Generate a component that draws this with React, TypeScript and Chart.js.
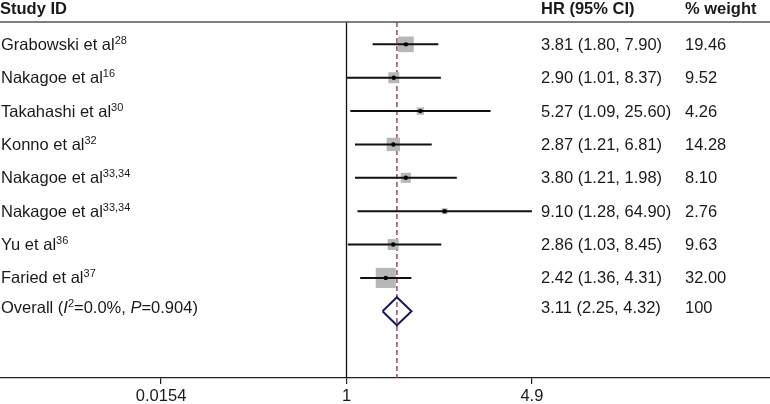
import React, { useEffect, useRef } from "react";
import { Chart, registerables } from "chart.js";

Chart.register(...registerables);

// ---- data ----
const studyNames = [
  "Grabowski et al",
  "Nakagoe et al",
  "Takahashi et al",
  "Konno et al",
  "Nakagoe et al",
  "Nakagoe et al",
  "Yu et al",
  "Faried et al",
];
const studyRefs = ["28", "16", "30", "32", "33,34", "33,34", "36", "37"];
const hrValues = [3.81, 2.9, 5.27, 2.87, 3.8, 9.1, 2.86, 2.42];
const ciLower = [1.8, 1.01, 1.09, 1.21, 1.21, 1.28, 1.03, 1.36];
const ciUpper = [7.9, 8.37, 25.6, 6.81, 11.98, 64.9, 8.45, 4.31];
const hrLabels = [
  "3.81 (1.80, 7.90)",
  "2.90 (1.01, 8.37)",
  "5.27 (1.09, 25.60)",
  "2.87 (1.21, 6.81)",
  "3.80 (1.21, 1.98)",
  "9.10 (1.28, 64.90)",
  "2.86 (1.03, 8.45)",
  "2.42 (1.36, 4.31)",
];
const weights = [19.46, 9.52, 4.26, 14.28, 8.1, 2.76, 9.63, 32.0];
const weightLabels = ["19.46", "9.52", "4.26", "14.28", "8.10", "2.76", "9.63", "32.00"];

const overallHR = 3.11;
const overallLower = 2.25;
const overallUpper = 4.32;
const overallHRLabel = "3.11 (2.25, 4.32)";
const overallWeightLabel = "100";

const xTickValues = [0.0154, 1, 64.9];
const xTickLabels = ["0.0154", "1", "4.9"];

const headers = ["Study ID", "HR (95% CI)", "% weight"];

// ---- style ----
const FONT = "'Liberation Sans', Arial, sans-serif";
const TXT = "#1a1a1a";
const X_MIN = 0.00041;
const X_MAX = 13800;
const Y_MIN = -0.67;
const Y_MAX = 10;
const OVERALL_ROW = studyNames.length;

type Run = { t: string; s?: "n" | "i" | "sup" };

function drawRuns(ctx: CanvasRenderingContext2D, x: number, y: number, runs: Run[]) {
  let cx = x;
  for (const r of runs) {
    if (r.s === "sup") {
      ctx.font = `11px ${FONT}`;
      ctx.fillText(r.t, cx, y - 6);
    } else if (r.s === "i") {
      ctx.font = `italic 16.5px ${FONT}`;
      ctx.fillText(r.t, cx, y);
    } else {
      ctx.font = `16.5px ${FONT}`;
      ctx.fillText(r.t, cx, y);
    }
    cx += ctx.measureText(r.t).width;
  }
}

const textPlugin = {
  id: "forestText",
  afterDraw(chart: any) {
    const ctx: CanvasRenderingContext2D = chart.ctx;
    const ys = chart.scales.y;
    const area = chart.chartArea;
    ctx.save();
    // header rule
    ctx.strokeStyle = "#555";
    ctx.lineWidth = 1.5;
    ctx.beginPath();
    ctx.moveTo(0, area.top);
    ctx.lineTo(chart.width, area.top);
    ctx.stroke();

    ctx.fillStyle = TXT;
    ctx.textAlign = "left";
    ctx.textBaseline = "alphabetic";
    ctx.font = `bold 16.5px ${FONT}`;
    ctx.fillText(headers[0], 0, 13.5);
    ctx.fillText(headers[1], 541, 13.5);
    ctx.fillText(headers[2], 685, 13.5);

    for (let i = 0; i < studyNames.length; i++) {
      const y = ys.getPixelForValue(i) + 5.5;
      drawRuns(ctx, 1, y, [{ t: studyNames[i] }, { t: studyRefs[i], s: "sup" }]);
      ctx.font = `16.5px ${FONT}`;
      ctx.fillText(hrLabels[i], 541, y);
      ctx.fillText(weightLabels[i], 685, y);
    }
    const oy = ys.getPixelForValue(OVERALL_ROW) + 2;
    drawRuns(ctx, 1, oy, [
      { t: "Overall (" },
      { t: "I", s: "i" },
      { t: "2", s: "sup" },
      { t: "=0.0%, " },
      { t: "P", s: "i" },
      { t: "=0.904)" },
    ]);
    ctx.font = `16.5px ${FONT}`;
    ctx.fillText(overallHRLabel, 541, oy);
    ctx.fillText(overallWeightLabel, 685, oy);
    ctx.restore();
  },
};

export default function App() {
  const ref = useRef<HTMLCanvasElement | null>(null);
  useEffect(() => {
    if (!ref.current) return;
    const datasets: any[] = [];
    // centre dots (topmost)
    datasets.push({
      data: hrValues.map((v, i) => ({ x: v, y: i })),
      pointRadius: 2.2,
      pointBackgroundColor: "#000",
      pointBorderWidth: 0,
      showLine: false,
    });
    // CI lines
    hrValues.forEach((_, i) => {
      datasets.push({
        data: [
          { x: ciLower[i], y: i },
          { x: ciUpper[i], y: i },
        ],
        showLine: true,
        borderColor: "#111",
        borderWidth: 2,
        pointRadius: 0,
      });
    });
    // weight squares
    datasets.push({
      data: hrValues.map((v, i) => ({ x: v, y: i })),
      pointStyle: "rect",
      pointRadius: weights.map((w) => (3.55 * Math.sqrt(w)) / Math.SQRT2),
      pointBackgroundColor: "#b7b7b7",
      pointBorderWidth: 0,
      showLine: false,
    });
    // overall diamond
    datasets.push({
      data: [
        { x: overallLower, y: OVERALL_ROW },
        { x: overallHR, y: OVERALL_ROW - 0.42 },
        { x: overallUpper, y: OVERALL_ROW },
        { x: overallHR, y: OVERALL_ROW + 0.42 },
        { x: overallLower, y: OVERALL_ROW },
      ],
      showLine: true,
      borderColor: "#1c1c5c",
      borderWidth: 2,
      pointRadius: 0,
      fill: false,
    });
    // overall dashed line
    datasets.push({
      data: [
        { x: overallHR, y: Y_MIN },
        { x: overallHR, y: Y_MAX },
      ],
      showLine: true,
      borderColor: "#a3485a",
      borderWidth: 1.5,
      borderDash: [5, 3],
      pointRadius: 0,
    });
    // null line at 1
    datasets.push({
      data: [
        { x: 1, y: Y_MIN },
        { x: 1, y: Y_MAX },
      ],
      showLine: true,
      borderColor: "#111",
      borderWidth: 1.3,
      pointRadius: 0,
    });

    const chart = new Chart(ref.current, {
      type: "scatter",
      data: { datasets },
      options: {
        animation: false,
        responsive: false,
        devicePixelRatio: 1,
        events: [],
        layout: { autoPadding: false, padding: { top: 22, left: 0, right: 0, bottom: 0 } },
        plugins: { legend: { display: false }, tooltip: { enabled: false } },
        scales: {
          x: {
            type: "logarithmic",
            min: X_MIN,
            max: X_MAX,
            bounds: "data",
            afterBuildTicks: (s: any) => {
              s.ticks = xTickValues.map((v) => ({ value: v }));
            },
            afterFit: (s: any) => {
              s.height = 26;
            },
            ticks: {
              callback: (_v: any, i: number) => xTickLabels[i],
              font: { family: FONT, size: 16.5 },
              color: TXT,
              padding: 3,
              maxRotation: 0,
              autoSkip: false,
            },
            grid: {
              drawOnChartArea: false,
              drawTicks: true,
              tickLength: 6,
              color: "#222",
              lineWidth: 1.2,
            },
            border: { display: true, color: "#222", width: 1.2 },
          },
          y: {
            type: "linear",
            min: Y_MIN,
            max: Y_MAX,
            reverse: true,
            display: false,
          },
        },
      } as any,
      plugins: [textPlugin],
    });
    return () => chart.destroy();
  }, []);

  return (
    <div style={{ position: "fixed", left: 0, top: 0, width: 770, height: 404, background: "#fff" }}>
      <canvas ref={ref} width={770} height={404} />
    </div>
  );
}
